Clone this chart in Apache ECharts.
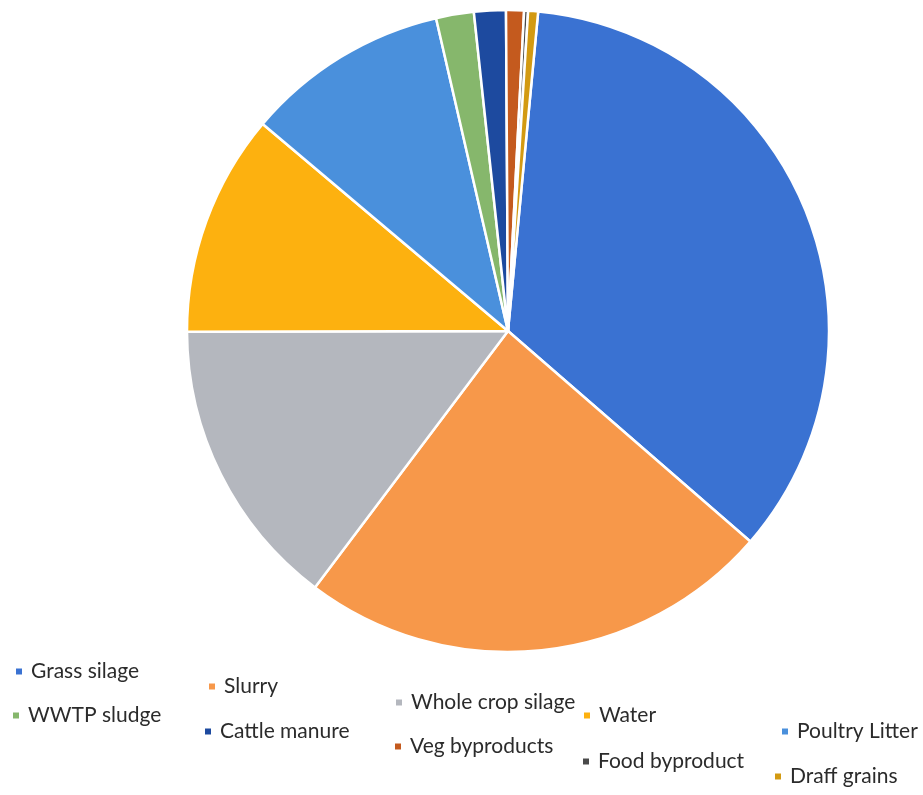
<!DOCTYPE html>
<html>
<head>
<meta charset="utf-8">
<script src="https://cdn.jsdelivr.net/npm/echarts@6/dist/echarts.min.js"></script>
<style>html,body{margin:0;padding:0;background:#fff;}#c{width:923px;height:795px;}</style>
</head>
<body>
<div id="c"></div>
<script>
var categories = ['Grass silage','Slurry','Whole crop silage','Water','Poultry Litter','WWTP sludge','Cattle manure','Veg byproducts','Food byproduct','Draff grains'];
var values = [34.9, 23.9, 14.7, 11.2, 10.25, 1.9, 1.6, 0.9, 0.2, 0.5];
var colors = ['#3a72d2','#f7984a','#b4b7be','#fdb10f','#4a90dc','#86b76c','#1d4a9f','#c45a1e','#4a4a4a','#d39a12'];

// legend item placement (left x of marker, vertical centre)
var legendPos = [
  [14,672],[207,687],[394,703],[582,716],[780,732],
  [11,716],[203,732],[393,747],[581,762],[773,777]
];

var chart = echarts.init(document.getElementById('c'));
var legends = categories.map(function(name, i){
  return {
    data:[name], left: legendPos[i][0], top: legendPos[i][1]-11,
    padding:0, icon:'rect', itemWidth:8, itemHeight:8,
    textStyle:{fontFamily:'Lato', fontSize:21, color:'#2b2b2b', padding:[0,0,0,3]},
    selectedMode:false
  };
});
chart.setOption({
  animation:false,
  color: colors,
  legend: legends,
  series:[{
    type:'pie',
    center:[508,331],
    radius:321,
    startAngle:84.6,
    clockwise:true,
    label:{show:false},
    labelLine:{show:false},
    emphasis:{disabled:true},
    itemStyle:{borderColor:'#fff', borderWidth:2.5},
    data: categories.map(function(n,i){return {name:n, value:values[i]};})
  }]
});
</script>
</body>
</html>
